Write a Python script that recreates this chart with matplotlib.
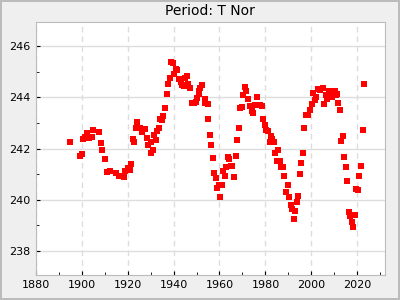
import matplotlib.pyplot as plt
from matplotlib.ticker import MultipleLocator

# epoch (year) and period (days) of T Nor
years = [1894.8, 1899.5, 1900.0, 1900.6, 1901.3, 1902.3, 1903.2, 1904.7, 1905.0,
         1907.6, 1908.5, 1908.9, 1910.2, 1911.0, 1912.4, 1914.8, 1916.3, 1918.5,
         1918.9, 1920.2, 1920.9, 1921.5, 1922.4, 1922.8, 1923.6, 1924.2, 1925.3,
         1926.5, 1926.7, 1927.5, 1928.5, 1928.9, 1930.0, 1930.4, 1931.1, 1931.7,
         1932.4, 1932.8, 1933.9, 1934.0, 1935.0, 1935.4, 1936.3, 1937.2, 1937.6,
         1938.5, 1939.1, 1939.8, 1940.3, 1940.9, 1941.5, 1942.4, 1943.1, 1943.7,
         1944.5, 1945.0, 1945.8, 1946.3, 1947.2, 1948.1, 1949.0, 1949.9, 1950.2,
         1950.9, 1951.3, 1951.7, 1952.4, 1953.5, 1953.9, 1954.8, 1955.0, 1955.9,
         1956.3, 1957.2, 1957.7, 1958.5, 1959.0, 1959.7, 1960.3, 1961.0, 1961.6,
         1962.5, 1962.8, 1963.8, 1964.2, 1965.1, 1965.6, 1966.4, 1967.2, 1967.7,
         1968.5, 1968.9, 1969.8, 1970.3, 1971.2, 1971.6, 1972.5, 1973.2, 1974.0,
         1974.4, 1975.4, 1976.4, 1977.6, 1978.6, 1979.0, 1979.9, 1980.3, 1981.2,
         1981.9, 1982.5, 1983.0, 1983.8, 1984.2, 1985.1, 1985.5, 1986.4, 1986.8,
         1987.7, 1988.1, 1989.0, 1989.9, 1990.3, 1991.2, 1991.6, 1992.5, 1992.9,
         1993.8, 1994.3, 1995.1, 1995.6, 1996.4, 1996.9, 1997.7, 1998.6, 1999.5,
         2000.3, 2000.8, 2001.6, 2002.1, 2003.0, 2003.8, 2005.0, 2005.6, 2006.4,
         2006.9, 2007.7, 2008.2, 2008.6, 2009.0, 2009.9, 2010.3, 2010.8, 2011.2,
         2011.7, 2012.5, 2013.0, 2013.8, 2014.3, 2015.2, 2015.6, 2016.4, 2016.9,
         2017.8, 2018.2, 2019.1, 2019.5, 2020.4, 2020.8, 2021.7, 2022.4, 2023.0]
period = [242.27, 241.71, 241.79, 242.38, 242.47, 242.62, 242.42, 242.46, 242.73,
          242.65, 242.22, 241.95, 241.60, 241.09, 241.13, 241.05, 240.93, 240.89,
          241.14, 241.24, 241.16, 241.38, 242.38, 242.26, 242.81, 243.06, 242.81,
          242.64, 242.77, 242.77, 242.42, 242.15, 242.27, 241.83, 241.95, 242.54,
          242.34, 242.67, 242.81, 243.15, 243.13, 243.28, 243.60, 244.12, 244.54,
          244.75, 245.39, 245.36, 244.90, 245.12, 245.09, 244.73, 244.60, 244.50,
          244.44, 244.75, 244.85, 244.54, 244.36, 243.79, 243.79, 243.82, 243.99,
          244.15, 244.27, 244.38, 244.50, 243.95, 243.78, 243.73, 243.16, 242.55,
          242.15, 241.64, 241.05, 240.85, 240.46, 240.58, 240.10, 240.58, 241.14,
          240.93, 241.29, 241.66, 241.60, 241.30, 241.30, 240.89, 241.71, 242.34,
          242.81, 243.58, 243.63, 244.10, 244.42, 244.26, 243.95, 243.68, 243.49,
          243.38, 243.71, 244.03, 243.69, 243.65, 243.16, 242.94, 242.73, 242.68,
          242.27, 242.50, 242.38, 242.27, 241.83, 241.53, 241.96, 241.53, 241.28,
          241.28, 240.93, 240.30, 240.58, 240.10, 239.79, 239.63, 239.24, 239.56,
          239.91, 240.15, 241.00, 241.44, 241.83, 242.81, 243.33, 243.33, 243.52,
          243.75, 244.18, 243.91, 244.01, 244.34, 244.30, 244.39, 243.75, 244.10,
          243.95, 244.26, 244.04, 244.27, 244.01, 244.20, 244.24, 244.10, 244.12,
          243.79, 243.52, 242.30, 242.50, 241.67, 241.28, 240.73, 239.52, 239.36,
          239.13, 238.94, 239.40, 240.42, 240.38, 240.93, 241.32, 242.73, 244.54]

fig = plt.figure(figsize=(4, 3), dpi=100, facecolor='#efefef',
                 edgecolor='#bbbbbb', linewidth=1.5)
ax = fig.add_axes([0.089, 0.083, 0.8735, 0.845])

ax.plot(years, period, 's', color='red', markersize=4.3, markeredgewidth=0)

ax.set_xlim(1880, 2032)
ax.set_ylim(237.05, 246.97)
ax.xaxis.set_major_locator(MultipleLocator(20))
ax.xaxis.set_minor_locator(MultipleLocator(10))
ax.yaxis.set_major_locator(MultipleLocator(2))
ax.yaxis.set_minor_locator(MultipleLocator(1))

ax.tick_params(which='both', direction='in', labelsize=8, colors='black')
ax.tick_params(which='major', length=3)
ax.tick_params(which='minor', length=2)

ax.grid(axis='x', color='#dddddd', linestyle=(0, (4, 3)), linewidth=1)
ax.grid(axis='y', color='#dddddd', linestyle='-', linewidth=1)
ax.set_axisbelow(True)
for s in ax.spines.values():
    s.set_color('#bbbbbb')

ax.set_title('Period: T Nor', fontsize=10, pad=5)

fig.savefig('out.png', dpi=100, facecolor=fig.get_facecolor(),
            edgecolor=fig.get_edgecolor())
